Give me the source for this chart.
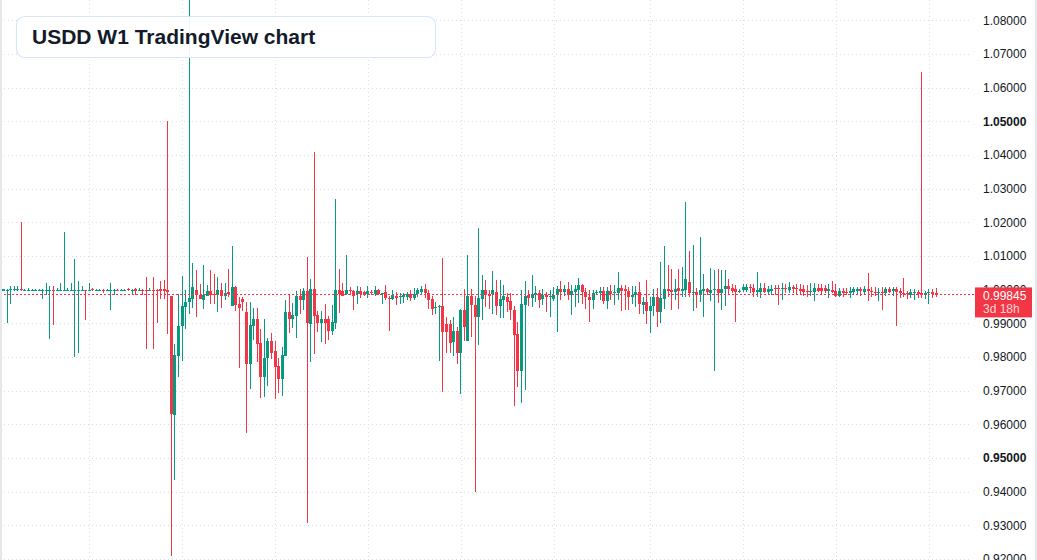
<!DOCTYPE html>
<html>
<head>
<meta charset="utf-8">
<script src="https://cdn.jsdelivr.net/npm/d3@7"></script>
<style>
  html, body { margin: 0; padding: 0; background: #ffffff; }
  svg { display: block; font-family: 'Liberation Sans', Arial, sans-serif; }
</style>
</head>
<body>
<script>
/* DATA
weekly candles (W1)
*/
const open = [
  .9997, .9997, .9998, .9999, .9999, 1.0001, .9997, .9998, .9998, .9998,
  .9998, .9998, .9998, .9998, 1.0000, .9998, .9998, .9998, .9998, .9998,
  .9998, .9998, .9998, 1.0000, .9998, 1.0002, .9997, .9998, 1.0000, .9998,
  .9998, .9996, 1.0000, .9998, .9998, 1.0002, .9996, 1.0001, .9998, 1.0000,
  1.0000, .9998, 1.0000, 1.0000, 1.0001, 1.0001, 1.0000, .9980, .9627, .9803,
  .9892, .9949, .9963, .9973, .9999, .9983, .9969, .9981, .9996, .9987,
  .9983, .9999, .9980, .9992, .9951, 1.0007, .9957, .9972, .9935, .9780,
  .9892, .9912, .9841, .9740, .9798, .9848, .9818, .9773, .9735, .9803,
  .9933, .9913, .9922, .9981, .9968, .9996, .9899, 1.0002, .9924, .9901,
  .9914, .9912, .9877, .9901, .9999, .9996, .9987, .9999, .9996, .9987,
  .9996, .9993, .9988, .9993, .9987, .9999, .9987, .9993, .9976, .9973,
  .9981, .9979, .9979, .9979, .9987, .9974, .9987, .9992, 1.0001, .9991,
  .9972, .9949, .9949, .9951, .9899, .9899, .9845, .9876, .9813, .9939,
  .9848, .9981, .9955, .9919, .9972, .9999, .9987, .9987, .9993, .9951,
  .9969, .9979, .9966, .9939, .9868, .9760, .9954, .9984, .9974, .9984,
  .9989, .9971, .9984, .9978, .9971, .9984, 1.0001, .9993, 1.0001, .9984,
  .9993, .9999, 1.0013, .9993, .9979, .9969, .9991, .9991, .9996, .9967,
  .9996, .9991, .9991, 1.0004, 1.0001, .9996, .9979, .9984, .9993, .9954,
  .9964, .9937, .9952, .9979, .9934, .9971, 1.0001, .9999, .9993, 1.0004,
  .9997, .9999, 1.0022, .9989, .9992, .9984, .9996, 1.0001, .9991, .9999,
  1.0001, .9989, 1.0001, 1.0010, 1.0004, 1.0001, .9993, .9999, .9999, 1.0008,
  1.0005, .9992, .9993, 1.0005, .9993, .9996, 1.0005, 1.0005, 1.0001, 1.0005,
  .9999, 1.0008, 1.0005, 1.0001, 1.0001, .9996, .9992, .9993, 1.0005, 1.0005,
  1.0005, .9996, .9999, .9996, .9982, .9996, .9992, .9989, .9993, .9996,
  1.0001, .9993, 1.0001, .9996, .9992, .9989, .9992, .9989, 1.0001, .9996,
  1.0001, .9996, .9989, .9991, .9984, .9989, .9993, .9989, .9984, .9989,
  .9993, .9991,
];

const high = [
  1.0003, 1.0002, 1.0010, 1.0010, 1.0010, 1.0201, 1.0001, 1.0004, 1.0002, 1.0002,
  1.0002, 1.0001, 1.0019, 1.0010, 1.0010, 1.0006, 1.0019, 1.0171, 1.0006, 1.0019,
  1.0091, 1.0025, 1.0010, 1.0000, 1.0019, 1.0006, 1.0001, 1.0001, 1.0002, 1.0002,
  1.0019, 1.0001, 1.0002, 1.0001, 1.0001, 1.0006, 1.0001, 1.0006, 1.0006, 1.0002,
  1.0037, 1.0005, 1.0037, 1.0002, 1.0025, 1.0028, 1.0500, .9981, .9838, .9986,
  1.0040, .9998, 1.0885, 1.0079, 1.0058, 1.0016, 1.0074, 1.0013, 1.0058, 1.0046,
  1.0037, 1.0019, 1.0019, 1.0061, 1.0130, 1.0010, .9979, .9979, .9964, .9964,
  .9945, .9945, .9882, .9914, .9858, .9871, .9848, .9797, .9829, .9969,
  .9987, .9961, .9996, 1.0001, 1.0004, 1.0098, 1.0031, 1.0410, .9937, .9937,
  .9957, .9921, .9954, 1.0269, 1.0061, 1.0020, 1.0103, 1.0008, .9999, 1.0010,
  1.0008, .9996, 1.0010, .9999, 1.0010, 1.0001, .9990, 1.0013, .9981, .9999,
  .9993, .9989, .9990, .9993, .9999, 1.0004, 1.0004, 1.0010, 1.0018, .9998,
  .9981, .9964, .9955, 1.0095, .9919, .9909, .9919, .9889, .9944, 1.0001,
  1.0103, 1.0001, .9981, 1.0184, 1.0043, 1.0030, .9999, 1.0055, 1.0030, 1.0028,
  1.0013, .9989, .9989, .9951, .9904, .9999, 1.0025, .9999, 1.0043, 1.0010,
  .9999, 1.0001, .9994, .9999, 1.0007, 1.0010, 1.0025, 1.0015, 1.0023, 1.0013,
  1.0013, 1.0036, 1.0018, 1.0004, .9999, .9999, .9999, 1.0007, 1.0007, 1.0007,
  1.0013, 1.0013, 1.0053, 1.0015, 1.0015, 1.0007, 1.0010, 1.0010, 1.0023, .9979,
  1.0030, .9979, 1.0001, 1.0004, 1.0083, 1.0129, 1.0073, 1.0061, 1.0031, 1.0060,
  1.0068, 1.0261, 1.0115, 1.0132, 1.0004, 1.0157, 1.0046, 1.0004, 1.0063, 1.0058,
  1.0060, 1.0058, 1.0058, 1.0033, 1.0016, 1.0015, 1.0001, 1.0018, 1.0016, 1.0018,
  1.0018, 1.0053, 1.0021, 1.0021, 1.0010, 1.0013, 1.0013, 1.0015, 1.0020, 1.0018,
  1.0023, 1.0015, 1.0018, 1.0018, 1.0013, 1.0013, 1.0020, 1.0020, 1.0018, 1.0016,
  1.0015, 1.0018, 1.0025, 1.0018, 1.0004, 1.0004, 1.0004, 1.0008, 1.0008, 1.0008,
  1.0008, 1.0010, 1.0050, 1.0008, 1.0007, 1.0005, 1.0008, 1.0008, 1.0008, 1.0008,
  1.0008, 1.0004, 1.0036, .9996, 1.0001, 1.0002, .9999, 1.0646, .9996, 1.0001,
  1.0001, 1.0004,
];

const low = [
  .9995, .9900, .9957, .9996, .9997, .9996, .9995, .9996, .9997, .9997,
  .9996, .9972, .9984, .9853, .9894, .9997, .9997, .9996, .9997, .9997,
  .9799, .9811, .9997, .9909, .9996, .9997, .9995, .9996, .9990, .9996,
  .9939, .9984, .9996, .9996, .9996, .9996, .9984, .9984, .9996, .9984,
  .9823, .9996, .9823, .9900, .9972, .9972, .9868, .9208, .9436, .9740,
  .9788, .9883, .9929, .9947, .9919, .9972, .9942, .9981, .9959, .9957,
  .9933, .9947, .9969, .9979, .9951, .9937, .9768, .9937, .9574, .9705,
  .9850, .9785, .9678, .9681, .9713, .9795, .9676, .9694, .9684, .9803,
  .9871, .9885, .9857, .9929, .9941, .9306, .9785, .9810, .9873, .9845,
  .9840, .9852, .9865, .9883, .9931, .9982, .9985, .9984, .9939, .9957,
  .9976, .9981, .9974, .9984, .9981, .9984, .9959, .9969, .9877, .9969,
  .9954, .9959, .9961, .9969, .9966, .9969, .9979, .9987, .9976, .9942,
  .9925, .9927, .9788, .9696, .9813, .9811, .9803, .9780, .9689, .9848,
  .9848, .9860, .9400, .9837, .9911, .9949, .9944, .9927, .9924, .9916,
  .9916, .9934, .9909, .9656, .9711, .9663, .9701, .9951, .9949, .9964,
  .9947, .9954, .9934, .9919, .9965, .9874, .9969, .9981, .9969, .9924,
  .9949, .9961, .9959, .9944, .9904, .9944, .9986, .9969, .9959, .9944,
  .9969, .9954, .9969, .9936, .9941, .9939, .9957, .9949, .9929, .9927,
  .9899, .9871, .9921, .9889, .9901, .9944, .9979, .9939, .9969, .9944,
  .9979, .9979, .9979, .9937, .9947, .9964, .9919, .9984, .9967, .9760,
  .9961, .9941, .9951, .9984, .9991, .9904, .9990, .9993, .9994, .9989,
  .9979, .9979, .9974, .9989, .9984, .9984, .9984, .9956, .9969, .9989,
  .9989, .9989, .9987, .9984, .9982, .9979, .9982, .9967, .9992, .9984,
  .9989, .9976, .9989, .9979, .9979, .9979, .9984, .9974, .9984, .9986,
  .9982, .9986, .9967, .9979, .9982, .9967, .9939, .9982, .9989, .9982,
  .9891, .9974, .9977, .9971, .9974, .9969, .9976, .9976, .9971, .9959,
  .9976, .9979,
];

const close = [
  1.0001, 1.0000, 1.0001, 1.0001, 1.0001, .9998, .9999, 1.0000, 1.0000, 1.0000,
  1.0000, 1.0000, 1.0000, 1.0000, .9997, 1.0000, 1.0000, 1.0000, 1.0000, 1.0000,
  1.0000, 1.0000, 1.0000, .9997, 1.0000, .9998, 1.0000, 1.0000, .9997, 1.0000,
  1.0000, 1.0000, .9998, 1.0000, 1.0000, .9998, 1.0000, .9997, 1.0000, .9996,
  .9997, 1.0000, .9996, .9997, .9996, .9996, .9993, .9632, .9805, .9892,
  .9951, .9963, .9975, 1.0007, .9983, .9972, .9983, .9996, .9984, .9983,
  .9999, .9980, .9990, .9987, 1.0007, .9955, .9945, .9962, .9778, .9894,
  .9912, .9839, .9740, .9798, .9848, .9813, .9770, .9735, .9805, .9933,
  .9913, .9924, .9981, .9968, .9996, .9901, 1.0002, .9922, .9902, .9914,
  .9901, .9877, .9904, .9999, .9986, .9982, .9999, .9996, .9981, .9996,
  .9987, .9984, .9996, .9990, .9999, .9987, .9990, .9976, .9973, .9983,
  .9976, .9981, .9983, .9987, .9976, .9987, .9998, 1.0001, .9990, .9969,
  .9942, .9950, .9951, .9874, .9874, .9842, .9876, .9813, .9939, .9889,
  .9981, .9954, .9919, .9974, .9999, .9984, .9981, .9999, .9951, .9972,
  .9981, .9964, .9939, .9865, .9760, .9957, .9981, .9974, .9987, .9989,
  .9969, .9984, .9978, .9980, .9984, 1.0001, .9993, 1.0001, .9984, .9996,
  1.0001, 1.0013, .9993, .9979, .9969, .9991, .9993, .9996, .9967, .9996,
  .9986, .9993, 1.0004, .9996, .9996, .9979, .9984, .9993, .9957, .9964,
  .9937, .9952, .9979, .9934, .9974, 1.0001, .9996, .9993, 1.0001, .9996,
  1.0001, 1.0031, .9989, .9992, .9984, .9999, 1.0001, .9992, .9999, 1.0001,
  .9991, 1.0001, 1.0010, 1.0001, .9996, .9993, .9996, 1.0007, 1.0008, 1.0004,
  .9993, .9999, 1.0005, .9993, 1.0001, 1.0002, 1.0002, 1.0001, 1.0004, 1.0001,
  1.0008, 1.0001, 1.0001, .9996, .9993, .9992, .9996, 1.0005, .9996, .9996,
  .9996, 1.0001, .9992, .9981, .9996, .9989, .9989, .9996, 1.0001, 1.0001,
  .9996, 1.0001, .9996, .9992, .9989, .9992, .9989, 1.0001, .9993, 1.0001,
  .9992, .9989, .9986, .9986, .9993, .9993, .9986, .9984, .9991, .9992,
  .9986, .99845,
];

// price scale labels, the two bold ones and the bars that carry a time grid line
const priceTicks = [
  0.92, 0.93, 0.94, 0.95, 0.96, 0.97, 0.98, 0.99,
  1.00, 1.01, 1.02, 1.03, 1.04, 1.05, 1.06, 1.07, 1.08,
];
const boldTicks = [0.95, 1.05];
const gridBars = [24, 50, 76, 102, 128, 154, 181, 207, 233, 259];

const lastPrice = 0.99845;
const countdown = '3d 18h';
const title = 'USDD W1 TradingView chart';

/* SETUP */
const width = 1037;
const height = 560;
const paneRight = 971;

const up = '#089981';
const down = '#f23645';
const gridColor = '#d9dce2';

const svg = d3
  .select('body')
  .append('svg')
  .attr('width', width)
  .attr('height', height)
  .attr('viewBox', [0, 0, width, height]);

const xScale = d3
  .scaleLinear()
  .domain([0, open.length - 1])
  .range([3.5, 936]);

const yScale = d3
  .scaleLinear()
  .domain([0.92, 1.08])
  .range([559.1, 20.3]);

const crisp = v => Math.round(v) + 0.5;

/* GRID */
const grid = svg.append('g').attr('shape-rendering', 'crispEdges');

grid
  .selectAll('line.h')
  .data(priceTicks)
  .join('line')
  .attr('class', 'h')
  .attr('x1', 0)
  .attr('x2', paneRight)
  .attr('y1', d => crisp(yScale(d)))
  .attr('y2', d => crisp(yScale(d)))
  .attr('stroke', gridColor)
  .attr('stroke-dasharray', '1 3');

grid
  .selectAll('line.v')
  .data(gridBars)
  .join('line')
  .attr('class', 'v')
  .attr('x1', d => crisp(xScale(d)))
  .attr('x2', d => crisp(xScale(d)))
  .attr('y1', 0)
  .attr('y2', height)
  .attr('stroke', gridColor)
  .attr('stroke-dasharray', '1 3');

/* CANDLES */
const candles = svg
  .append('g')
  .attr('shape-rendering', 'crispEdges')
  .selectAll('g')
  .data(open.map((o, i) => ({ i, o, h: high[i], l: low[i], c: close[i] })))
  .join('g')
  .attr('fill', d => (d.c >= d.o ? up : down));

candles
  .append('rect')
  .attr('x', d => Math.floor(xScale(d.i)))
  .attr('width', 1)
  .attr('y', d => yScale(d.h))
  .attr('height', d => Math.max(1, yScale(d.l) - yScale(d.h)));

candles
  .append('rect')
  .attr('x', d => Math.floor(xScale(d.i)) - 1)
  .attr('width', 3)
  .attr('y', d => yScale(Math.max(d.o, d.c)))
  .attr('height', d => Math.max(1, Math.abs(yScale(d.o) - yScale(d.c))));

/* LAST PRICE LINE */
svg
  .append('line')
  .attr('x1', 0)
  .attr('x2', 975)
  .attr('y1', crisp(yScale(lastPrice)) - 1)
  .attr('y2', crisp(yScale(lastPrice)) - 1)
  .attr('stroke', down)
  .attr('stroke-dasharray', '1.5 2.5')
  .attr('shape-rendering', 'crispEdges');

/* PRICE AXIS */
const yAxis = d3
  .axisRight()
  .scale(yScale)
  .tickValues(priceTicks)
  .tickSize(0)
  .tickPadding(8)
  .tickFormat(d => d.toFixed(5));

const axis = svg
  .append('g')
  .attr('transform', 'translate(975 0)')
  .call(yAxis);

axis.select('path').remove();

axis
  .selectAll('text')
  .attr('font-size', 12)
  .attr('font-family', "'Liberation Sans', Arial, sans-serif")
  .attr('fill', '#131722')
  .attr('font-weight', d => (boldTicks.includes(d) ? 'bold' : 'normal'));

// last price badge covers part of the 1.00000 label
const badge = svg.append('g');

badge
  .append('rect')
  .attr('x', 975)
  .attr('y', yScale(lastPrice) - 7.5)
  .attr('width', 57)
  .attr('height', 30)
  .attr('fill', down);

badge
  .append('text')
  .attr('x', 983)
  .attr('y', yScale(lastPrice) + 5.5)
  .attr('font-size', 12)
  .attr('fill', '#ffffff')
  .text(lastPrice.toFixed(5));

badge
  .append('text')
  .attr('x', 983)
  .attr('y', yScale(lastPrice) + 18)
  .attr('font-size', 12)
  .attr('fill', '#ffffff')
  .attr('fill-opacity', 0.8)
  .text(countdown);

/* FRAME */
svg
  .append('rect')
  .attr('x', 0)
  .attr('y', 0)
  .attr('width', 2)
  .attr('height', height)
  .attr('fill', '#e6e7ea');

svg
  .append('rect')
  .attr('x', width - 2)
  .attr('y', 0)
  .attr('width', 2)
  .attr('height', height)
  .attr('fill', '#e6e7ea');

/* TITLE */
svg
  .append('rect')
  .attr('x', 16.5)
  .attr('y', 16.5)
  .attr('width', 419)
  .attr('height', 41)
  .attr('rx', 8)
  .attr('fill', '#ffffff')
  .attr('fill-opacity', 0.92)
  .attr('stroke', '#d8e5f8')
  .attr('stroke-width', 1.2);

svg
  .append('text')
  .attr('x', 32)
  .attr('y', 44.3)
  .attr('font-size', 21)
  .attr('font-weight', 'bold')
  .attr('fill', '#131a2a')
  .text(title);
</script>
</body>
</html>
